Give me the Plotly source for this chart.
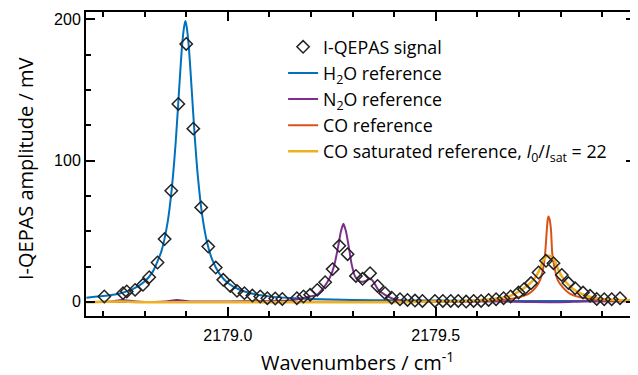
import plotly.graph_objects as go

# ---------------- data ----------------
sig_x = [2178.703, 2178.748, 2178.757, 2178.777, 2178.796, 2178.811, 2178.831, 2178.848,
         2178.864, 2178.881, 2178.900, 2178.917, 2178.936, 2178.953, 2178.971, 2178.989,
         2179.006, 2179.022, 2179.040, 2179.059, 2179.078, 2179.095, 2179.114, 2179.131,
         2179.166, 2179.182, 2179.198, 2179.215, 2179.234, 2179.252, 2179.268, 2179.288,
         2179.308, 2179.324, 2179.342, 2179.360, 2179.378, 2179.394, 2179.414, 2179.432,
         2179.450, 2179.468, 2179.498, 2179.517, 2179.536, 2179.554, 2179.573, 2179.591,
         2179.609, 2179.627, 2179.645, 2179.663, 2179.680, 2179.699, 2179.712, 2179.729,
         2179.747, 2179.765, 2179.783, 2179.803, 2179.819, 2179.835, 2179.854, 2179.871,
         2179.887, 2179.905, 2179.923, 2179.943]
sig_y = [3.8, 6.2, 7.4, 8.5, 12.1, 17.5, 27.9, 44.5,
         78.7, 140.2, 182.7, 122.7, 66.9, 39.2, 24.3, 15.6,
         11.3, 7.8, 6.2, 4.5, 3.8, 2.6, 2.4, 2.1,
         2.6, 3.8, 5.0, 8.5, 13.9, 23.2, 39.7, 33.8,
         18.4, 16.3, 20.3, 11.3, 6.2, 3.0, 1.9, 1.4,
         0.9, 0.7, 0.7, 0.7, 0.7, 0.7, 0.2, 0.7,
         0.7, 1.4, 1.9, 2.6, 3.8, 6.6, 9.0, 13.3,
         20.8, 29.1, 27.4, 19.1, 13.3, 9.7, 6.6, 4.3,
         2.1, 1.9, 1.9, 2.6]

h2o_x = [2178.66, 2178.70, 2178.74, 2178.77, 2178.80, 2178.82, 2178.84, 2178.855, 2178.865,
         2178.875, 2178.883, 2178.890, 2178.895, 2178.898, 2178.901, 2178.906, 2178.913,
         2178.920, 2178.928, 2178.938, 2178.950, 2178.963, 2178.98, 2179.00, 2179.03,
         2179.06, 2179.10, 2179.15, 2179.20, 2179.30, 2179.40, 2179.50, 2179.60, 2179.70,
         2179.80, 2179.90, 2179.98]
h2o_y = [3.0, 4.1, 6.0, 8.8, 14.4, 21.6, 35.6, 56, 79.5,
         114.5, 151, 181.5, 195, 199, 195, 181.5, 151,
         119, 88.7, 62.2, 42.3, 29.5, 19.8, 13.4, 8.4,
         5.8, 3.9, 2.7, 2.0, 1.4, 1.1, 0.9, 0.8, 0.7,
         0.7, 0.6, 0.6]

n2o_x = [2178.66, 2178.72, 2178.745, 2178.78, 2178.85, 2178.877, 2178.91, 2179.00, 2179.10,
         2179.15, 2179.18, 2179.20, 2179.214, 2179.226, 2179.238, 2179.250, 2179.258,
         2179.266, 2179.272, 2179.278, 2179.284, 2179.290, 2179.298, 2179.306, 2179.318,
         2179.330, 2179.342, 2179.350, 2179.362, 2179.378, 2179.398, 2179.418, 2179.45,
         2179.55, 2179.65, 2179.72, 2179.80, 2179.86, 2179.98]
n2o_y = [0.0, 0.3, 1.3, 0.3, 0.2, 1.4, 0.3, 0.3, 0.5,
         1.0, 2.5, 4.0, 5.0, 8.5, 13.3, 20.4, 28.6,
         40.4, 50, 55.3, 50, 40.4, 26.2, 18, 14.4,
         14.6, 16.5, 14.4, 8.5, 5.0, 2.1, 0.7, 0.3,
         0.2, 0.3, 0.0, -0.2, 0.3, 0.5]

co_x = [2178.66, 2179.00, 2179.40, 2179.55, 2179.62, 2179.675, 2179.699, 2179.723, 2179.739,
        2179.751, 2179.759, 2179.763, 2179.767, 2179.769, 2179.771, 2179.774, 2179.777,
        2179.780, 2179.785, 2179.793, 2179.807, 2179.823, 2179.847, 2179.875, 2179.92,
        2179.98]
co_y = [0.0, 0.0, 0.1, 0.3, 0.8, 1.9, 3.3, 5.7, 9.7,
        15.6, 25, 34.5, 51, 58, 60.5, 58, 51,
        34.5, 25, 15.6, 9.7, 5.7, 3.3, 1.9, 1.0,
        0.6]

cosat_x = [2178.66, 2178.741, 2178.80, 2179.00, 2179.30, 2179.45, 2179.55, 2179.62, 2179.65,
           2179.679, 2179.699, 2179.715, 2179.731, 2179.743, 2179.751, 2179.759, 2179.765,
           2179.771, 2179.778, 2179.785, 2179.793, 2179.803, 2179.815, 2179.831, 2179.851,
           2179.875, 2179.90, 2179.94, 2179.98]
cosat_y = [-0.3, 0.3, -0.3, -0.3, -0.3, 0.0, 0.5, 1.5, 2.5,
           4.3, 7.3, 10.4, 14.4, 19.1, 23.9, 29.8, 32,
           32.6, 32, 29.8, 23.9, 18, 13.3, 9, 5.7,
           3.3, 2.0, 1.3, 1.0]

x_ticks = [2179.0, 2179.5]
x_tick_labels = ["2179.0", "2179.5"]
y_ticks = [0, 100, 200]
y_tick_labels = ["0", "100", "200"]

names = ["I-QEPAS signal",
         "H<sub>2</sub>O reference",
         "N<sub>2</sub>O reference",
         "CO reference",
         "CO saturated reference, <i>I</i><sub>0</sub>/<i>I</i><sub>sat</sub> = 22"]
x_title = "Wavenumbers / cm<sup>-1</sup>"
y_title = "I-QEPAS amplitude / mV"

# ---------------- figure ----------------
fig = go.Figure()
line_kw = dict(shape="spline", smoothing=0.6)
fig.add_trace(go.Scatter(x=h2o_x, y=h2o_y, mode="lines", name=names[1], legendrank=2,
                         line=dict(color="#0072BD", width=2, **line_kw)))
fig.add_trace(go.Scatter(x=n2o_x, y=n2o_y, mode="lines", name=names[2], legendrank=3,
                         line=dict(color="#7E2F8E", width=2, **line_kw)))
fig.add_trace(go.Scatter(x=co_x, y=co_y, mode="lines", name=names[3], legendrank=4,
                         line=dict(color="#D95319", width=2, **line_kw)))
fig.add_trace(go.Scatter(x=cosat_x, y=cosat_y, mode="lines", name=names[4], legendrank=5,
                         line=dict(color="#EDB120", width=2.5, **line_kw)))
fig.add_trace(go.Scatter(x=sig_x, y=sig_y, mode="markers", name=names[0], legendrank=1,
                         marker=dict(symbol="diamond-open", size=9.5, color="#222222",
                                     line=dict(width=1.5, color="#222222"))))

axis_common = dict(
    showline=True, linecolor="black", linewidth=2, mirror="allticks",
    ticks="inside", ticklen=9, tickwidth=1.5, tickcolor="black",
    showgrid=False, zeroline=False, automargin=False,
    tickfont=dict(family="Arial, Liberation Sans, sans-serif", size=16, color="black"),
)

fig.update_xaxes(
    range=[2178.659, 2179.979], tickmode="array", tickvals=x_ticks, ticktext=x_tick_labels,
    minor=dict(ticks="inside", ticklen=5, tickwidth=1.5, tickcolor="black", dtick=0.1,
               tick0=2179.0, showgrid=False),
    ticklabelstandoff=4,
    **axis_common)
fig.update_yaxes(
    range=[-10, 205.3], tickmode="array", tickvals=y_ticks, ticktext=y_tick_labels,
    minor=dict(ticks="inside", ticklen=5, tickwidth=1.5, tickcolor="black", dtick=25,
               tick0=0, showgrid=False),
    **axis_common)

title_font = dict(family="Open Sans, sans-serif", size=20, color="black")
fig.add_annotation(text=x_title, xref="paper", yref="paper", x=0.4945, y=-0.151,
                   xanchor="center", yanchor="middle", showarrow=False, font=title_font)
fig.add_annotation(text=y_title, xref="paper", yref="paper", x=-0.1102, y=0.485,
                   xanchor="center", yanchor="middle", textangle=-90, showarrow=False,
                   font=title_font)

# the page body adds an 8px offset, so the figure is 8px smaller than the window
fig.update_layout(
    width=630, height=367,
    margin=dict(l=78, r=3, t=4, b=59),
    paper_bgcolor="white", plot_bgcolor="white",
    showlegend=True,
    legend=dict(x=0.359, y=0.945, xanchor="left", yanchor="top",
                bgcolor="rgba(0,0,0,0)", borderwidth=0, traceorder="normal",
                font=dict(family="Open Sans, sans-serif", size=17.8, color="black")),
)

fig.write_html("out.html")
